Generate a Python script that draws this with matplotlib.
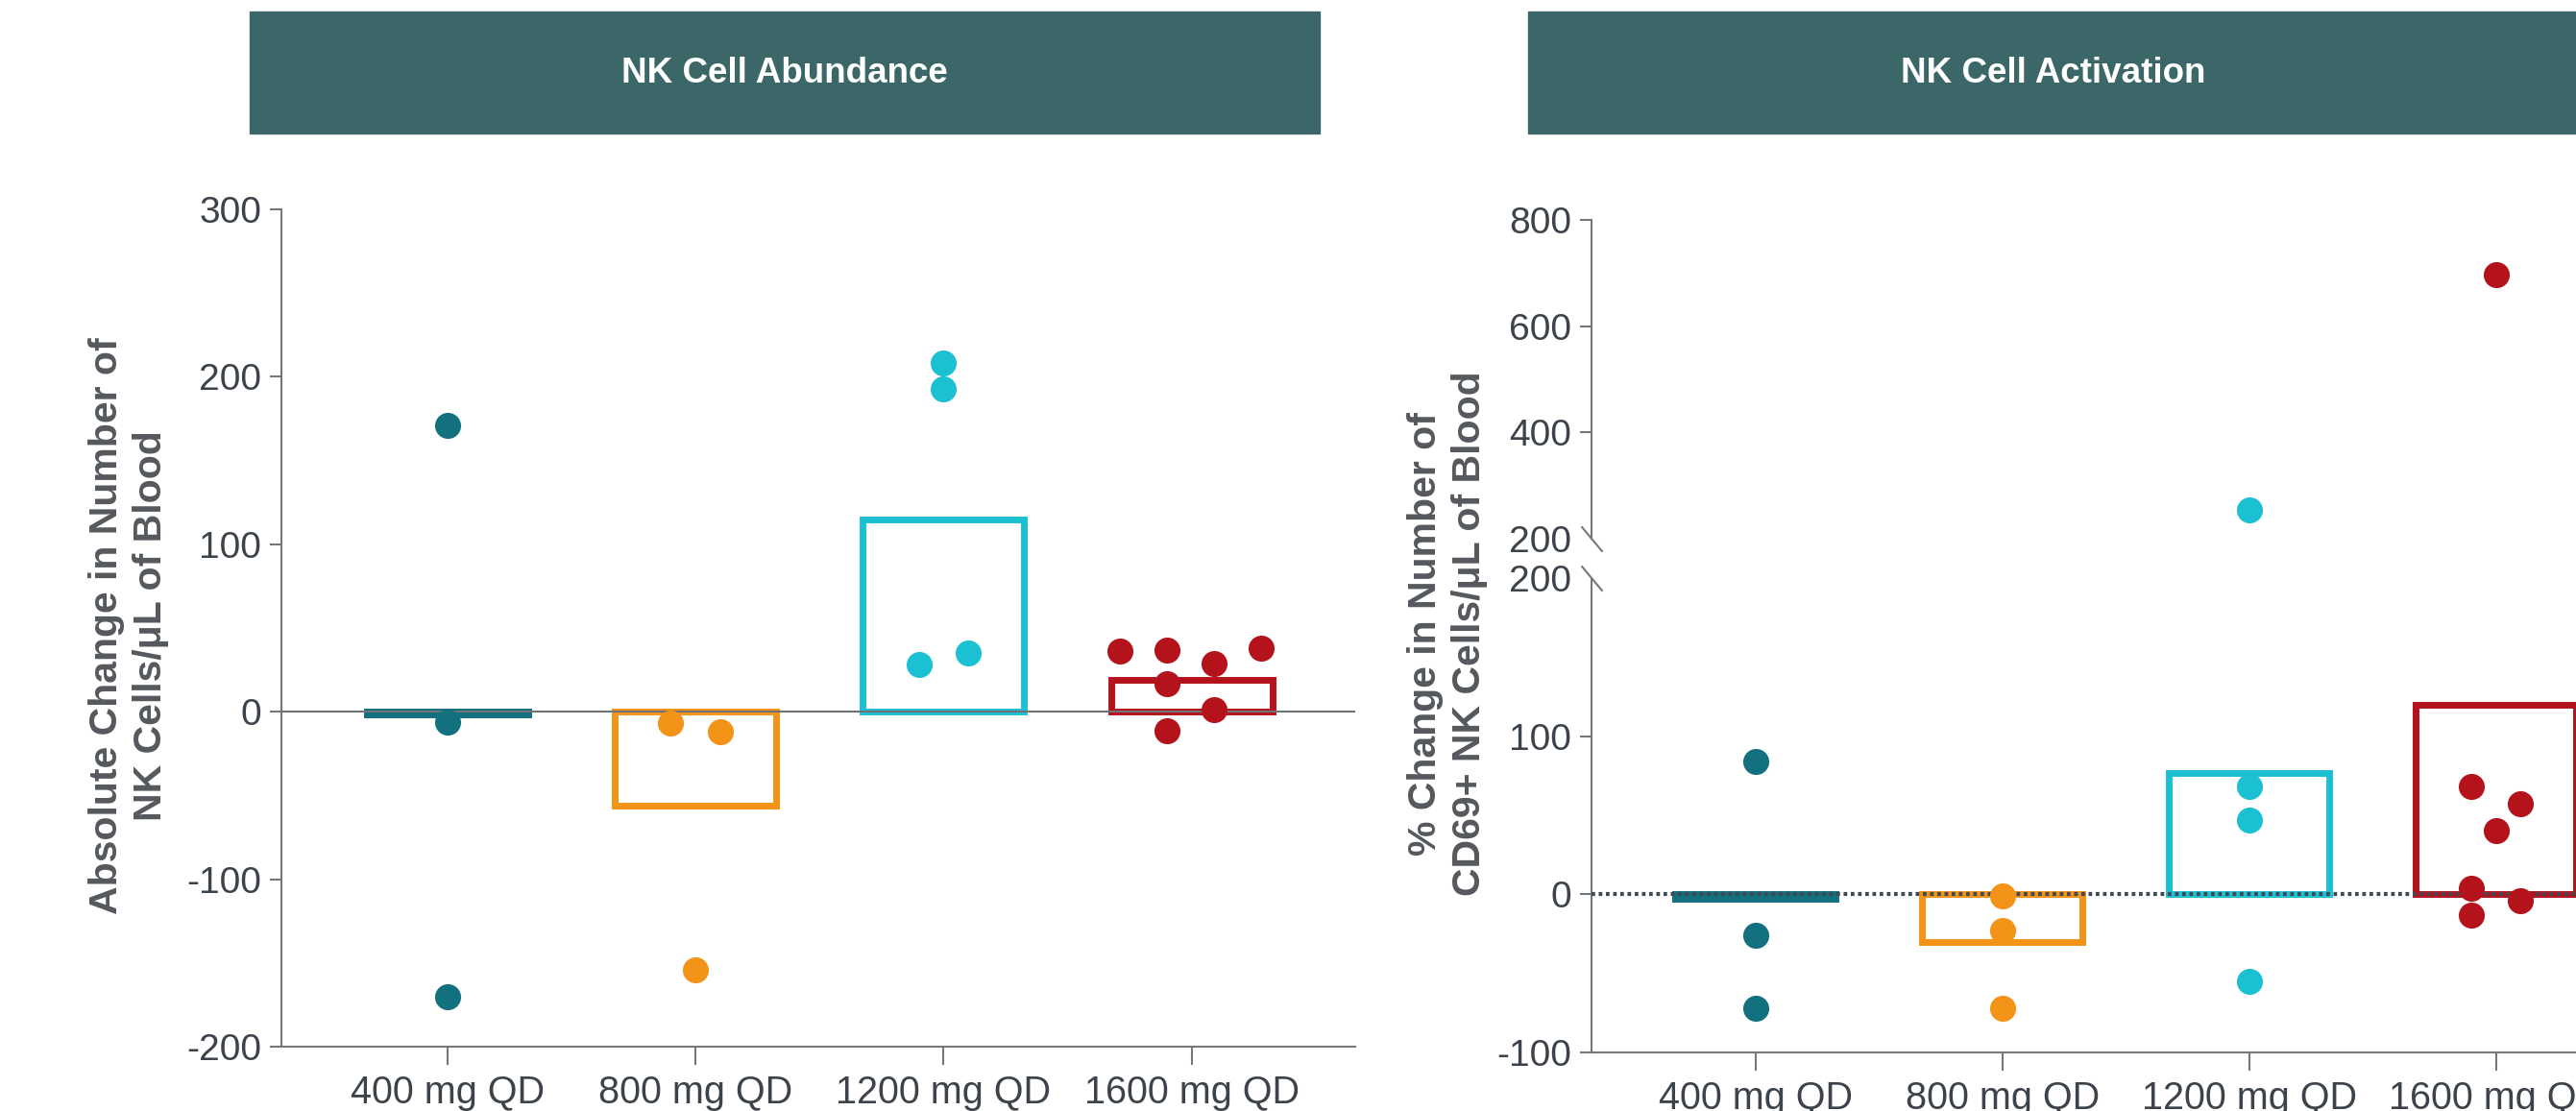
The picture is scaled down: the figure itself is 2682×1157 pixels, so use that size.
import matplotlib
matplotlib.use('Agg')
import matplotlib.pyplot as plt
from matplotlib.patches import Rectangle

plt.rcParams['font.family'] = ['Liberation Sans', 'DejaVu Sans']
plt.rcParams['axes.unicode_minus'] = False

doses = ['400 mg QD', '800 mg QD', '1200 mg QD', '1600 mg QD']
colors = ['#13707f', '#f39419', '#1cc0d3', '#b5131c']

# NK cell abundance: absolute change (cells/uL)
abund_bars = [-1.5, -56, 115, 19]
abund_pts = [[171, -6, -170],
             [-7, -12, -154],
             [208, 193, 28, 35],
             [36, 37, 29, 38, 16.5, 1, -11.5]]
abund_jit = [[0, 0, 0],
             [-0.1, 0.1, 0],
             [0, 0, -0.1, 0.1],
             [-0.29, -0.1, 0.09, 0.28, -0.1, 0.09, -0.1]]

# NK cell activation: % change in CD69+ NK cells
act_bars = [-3, -30, 77, 120]
act_pts = [[84, -26, -72],
           [-1, -23, -72],
           [255, 68, 47, -55],
           [697, 68, 57, 40, 4, -4, -13]]
act_jit = [[0, 0, 0],
           [0, 0, 0],
           [0, 0, 0, 0],
           [0, -0.1, 0.1, 0, -0.1, 0.1, -0.1]]

spine_c = '#74777c'
tick_c = '#3d434a'
lab_c = '#55595e'
head_c = '#3b6769'

W, H = 2682, 1157
fig = plt.figure(figsize=(W / 100, H / 100), dpi=100)


def pos(l, t, r, b):
    return [l / W, 1 - b / H, (r - l) / W, (b - t) / H]


def style(ax):
    for s in ['top', 'right']:
        ax.spines[s].set_visible(False)
    for s in ['left', 'bottom']:
        ax.spines[s].set_color(spine_c)
        ax.spines[s].set_linewidth(1.5)
    ax.tick_params(axis='y', length=9, width=1.5, color=spine_c,
                   labelsize=28, labelcolor=tick_c, pad=6)
    ax.tick_params(axis='x', length=14, width=1.5, color=spine_c,
                   labelsize=28.5, labelcolor=tick_c, pad=7)


def draw(ax, bars, pts, jit):
    x = range(len(doses))
    ax.bar(x, bars, width=0.65, fill=False, edgecolor=colors, linewidth=5, zorder=2)
    for i in x:
        xs = [i + j for j in jit[i]]
        ax.plot(xs, pts[i], 'o', ms=19.5, color=colors[i], mec='none', zorder=4)


# headers
for l, r, t in [(260, 1374, 'NK Cell Abundance'), (1591, 2685, 'NK Cell Activation')]:
    fig.patches.append(Rectangle((l / W, 1 - 139 / H), (r - l) / W, 127 / H,
                                 transform=fig.transFigure, color=head_c))
    fig.text((l + r) / 2 / W, 1 - 76 / H, t, ha='center', va='center',
             color='white', fontsize=26.5, fontweight='bold')

# left panel
ax1 = fig.add_axes(pos(293, 218, 1411, 1090))
draw(ax1, abund_bars, abund_pts, abund_jit)
ax1.axhline(0, color='#6f7378', lw=1.5, zorder=3)
ax1.set_xlim(-0.67, 3.66)
ax1.set_ylim(-200, 300)
ax1.set_yticks([-200, -100, 0, 100, 200, 300])
ax1.set_xticks(range(4))
ax1.set_xticklabels(doses)
style(ax1)
fig.text(134 / W, 1 - 652 / H, 'Absolute Change in Number of\nNK Cells/μL of Blood',
         rotation=90, ha='center', va='center', fontsize=29.5, fontweight='bold',
         color=lab_c, linespacing=1.25)

# right panel, broken axis
ax_lo = fig.add_axes(pos(1657, 602, 2776, 1096))
ax_hi = fig.add_axes(pos(1657, 229, 2776, 561))
draw(ax_lo, act_bars, act_pts, act_jit)
ax_lo.axhline(0, color='#3f4a55', lw=3, ls=(0, (0.9, 0.9)), zorder=3)
for i in range(4):
    ax_hi.plot([i + j for j in act_jit[i]], act_pts[i], 'o', ms=19.5,
               color=colors[i], mec='none')
for ax in [ax_lo, ax_hi]:
    ax.set_xlim(-0.665, 3.69)
    style(ax)
ax_lo.set_ylim(-100, 200)
ax_lo.set_yticks([-100, 0, 100, 200])
ax_lo.set_xticks(range(4))
ax_lo.set_xticklabels(doses)
ax_lo.yaxis.get_major_ticks()[-1].tick1line.set_visible(False)
ax_hi.set_ylim(200, 800)
ax_hi.set_yticks([200, 400, 600, 800])
ax_hi.yaxis.get_major_ticks()[0].tick1line.set_visible(False)
ax_hi.spines['bottom'].set_visible(False)
ax_hi.xaxis.set_visible(False)

brk = [(-1, 1.2), (1, -1.2)]
ax_hi.plot([0], [0], marker=brk, ms=19, mew=1.5, color=spine_c,
           transform=ax_hi.transAxes, clip_on=False)
ax_lo.plot([0], [1], marker=brk, ms=19, mew=1.5, color=spine_c,
           transform=ax_lo.transAxes, clip_on=False)

fig.text(1507 / W, 1 - 660 / H, '% Change in Number of\nCD69+ NK Cells/μL of Blood',
         rotation=90, ha='center', va='center', fontsize=29.5, fontweight='bold',
         color=lab_c, linespacing=1.25)

fig.savefig('out.png', dpi=100)
